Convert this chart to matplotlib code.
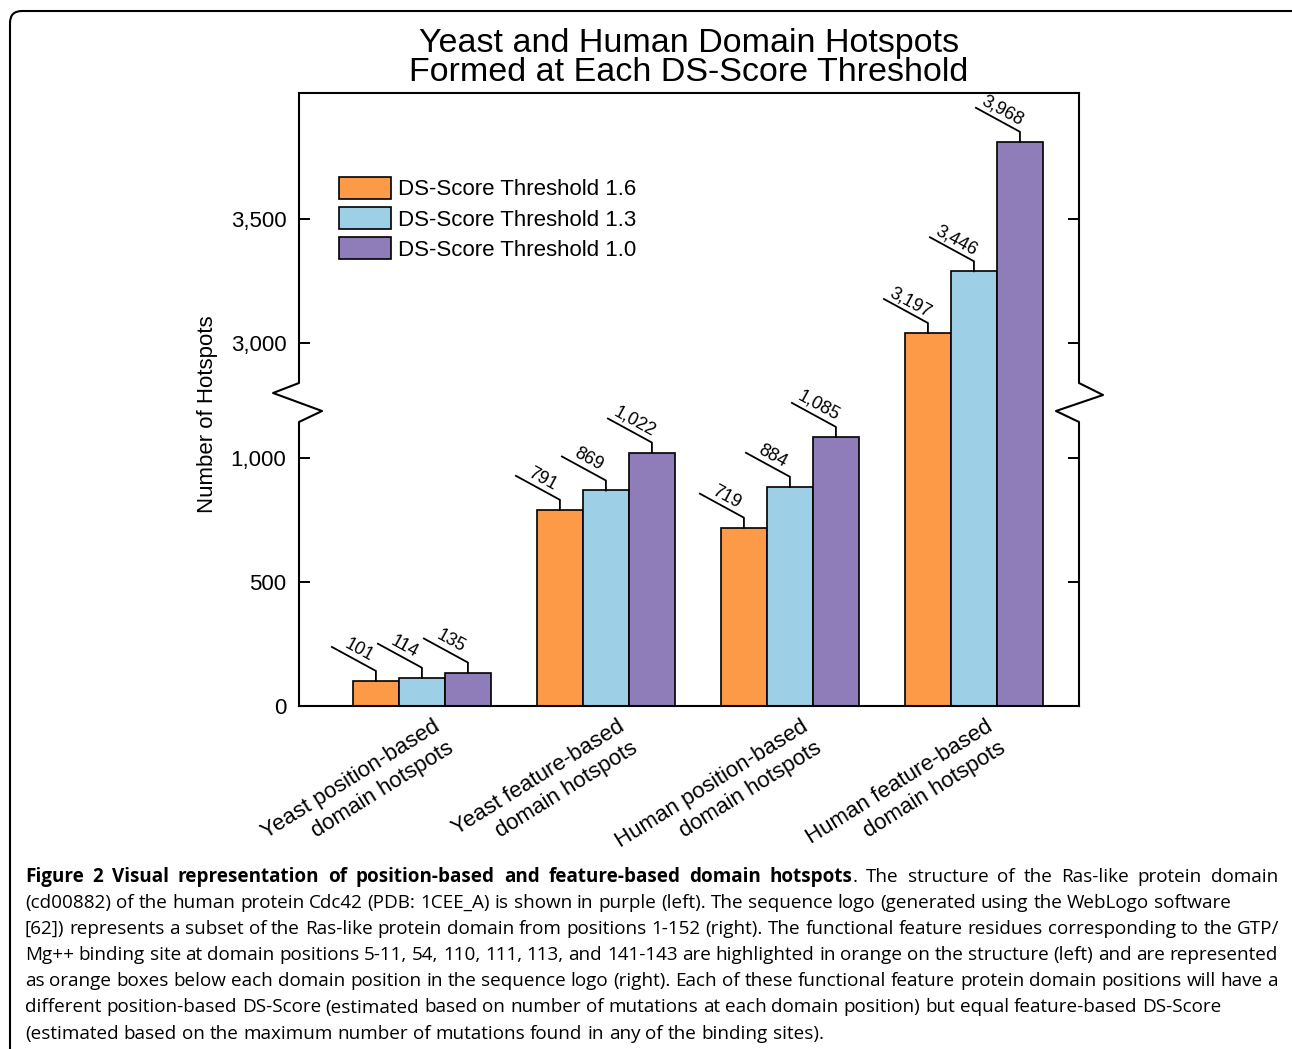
import numpy as np
import matplotlib
matplotlib.use("Agg")
import matplotlib.pyplot as plt
from matplotlib.lines import Line2D
from matplotlib.patches import FancyBboxPatch
from matplotlib.transforms import IdentityTransform

# Datos
categories = ["Yeast position-based\ndomain hotspots",
              "Yeast feature-based\ndomain hotspots",
              "Human position-based\ndomain hotspots",
              "Human feature-based\ndomain hotspots"]
series_names = ["DS-Score Threshold 1.6", "DS-Score Threshold 1.3", "DS-Score Threshold 1.0"]
thr_16 = [101, 791, 719, 3197]
thr_13 = [114, 869, 884, 3446]
thr_10 = [135, 1022, 1085, 3968]
colors = ["#FD9A47", "#9DCFE6", "#8F7DBA"]

lower_ticks = [0, 500, 1000]
upper_ticks = [3000, 3500]

# eje roto: todo lo que pasa de 2000 se baja
BREAK = 2000
BAR_SHIFT = 1693
TICK_SHIFT = 1538


def to_plot(v, shift=BAR_SHIFT):
    return v if v < BREAK else v - shift


def fmt(v):
    return f"{v:,}"


W, H = 1292, 1049
fig = plt.figure(figsize=(W / 100, H / 100), dpi=100)
plt.rcParams["font.family"] = ["Liberation Sans", "DejaVu Sans"]

# marco redondeado de la figura
frame = FancyBboxPatch((10, -12), 1300, H - 11 + 12, boxstyle="round,pad=0,rounding_size=12",
                       transform=IdentityTransform(), fill=False, lw=1.5, ec="black")
fig.add_artist(frame)

ax = fig.add_axes([299 / W, 1 - 706 / H, 780 / W, 613 / H])
ax.set_xlim(-0.668, 3.571)
ax.set_ylim(0, 613 / 0.248)

x = np.arange(len(categories))
width = 0.25
series = [thr_16, thr_13, thr_10]
for i, (vals, name, c) in enumerate(zip(series, series_names, colors)):
    ax.bar(x + (i - 1) * width, [to_plot(v) for v in vals], width,
           color=c, edgecolor="black", lw=1.2, label=name)

# ticks
ypos = [to_plot(t) for t in lower_ticks] + [to_plot(t, TICK_SHIFT) for t in upper_ticks]
ax.set_yticks(ypos, [fmt(t) for t in lower_ticks + upper_ticks])
ax.tick_params(axis="y", direction="in", left=True, right=True, length=8, width=1.4,
               labelsize=16, pad=9)
ax.set_xticks([])
for s in ["left", "right"]:
    ax.spines[s].set_visible(False)
for s in ["top", "bottom"]:
    ax.spines[s].set_linewidth(1.5)

# ejes laterales con el zigzag del corte
y_hi, y_lo = (706 - 383) / 613, (706 - 422) / 613
left_pts = [(0, 0), (0, y_lo), (0.0295, (706 - 411) / 613),
            (-0.0333, (706 - 393) / 613), (0, y_hi), (0, 1)]
right_pts = [(1, 0), (1, y_lo), (0.9705, (706 - 411) / 613),
             (1.0308, (706 - 395) / 613), (1, y_hi), (1, 1)]
for pts in (left_pts, right_pts):
    xs, ys = zip(*pts)
    ax.add_line(Line2D(xs, ys, transform=ax.transAxes, color="black", lw=1.5, clip_on=False))

# etiquetas de valor con linea guia
fig.canvas.draw()
ang = np.degrees(np.arctan2(24, 44))
for i, vals in enumerate(series):
    for j, v in enumerate(vals):
        bx, by = ax.transData.transform((x[j] + (i - 1) * width, to_plot(v)))
        fig.add_artist(Line2D([bx, bx, bx - 44], [by, by + 10, by + 34], color="black", lw=1.3,
                              transform=IdentityTransform()))
        fig.text(bx - 17.2, by + 30.8, fmt(v), transform=IdentityTransform(), rotation=-ang,
                 ha="center", va="center", fontsize=13, rotation_mode="anchor")

# categorias
for j, cat in enumerate(categories):
    ax.annotate(cat, xy=(x[j], 0), xycoords=("data", "axes fraction"), xytext=(11, -10),
                textcoords="offset pixels", rotation=32, ha="right", va="top",
                rotation_mode="anchor", multialignment="right", linespacing=1.3, fontsize=16)

ax.legend(loc="upper left", bbox_to_anchor=(40 / 780, (706 - 177) / 613), frameon=False,
          borderpad=0, borderaxespad=0, fontsize=16, handlelength=2.34, handleheight=1.13,
          labelspacing=0.3, handletextpad=0.3)

fig.text(207 / W, 1 - 414 / H, "Number of Hotspots", rotation=90, ha="center", va="center",
         fontsize=16)
fig.text(689 / W, 1 - 58 / H, "Yeast and Human Domain Hotspots\nFormed at Each DS-Score Threshold",
         ha="center", va="center", fontsize=24.5, linespacing=0.95)

# leyenda de la figura (texto justificado)
cap_lines = [
    [("Figure 2 Visual representation of position-based and feature-based domain hotspots", True),
     (". The structure of the Ras-like protein domain", False)],
    [("(cd00882) of the human protein Cdc42 (PDB: 1CEE_A) is shown in purple (left). The sequence logo (generated using the WebLogo software", False)],
    [("[62]) represents a subset of the Ras-like protein domain from positions 1-152 (right). The functional feature residues corresponding to the GTP/", False)],
    [("Mg++ binding site at domain positions 5-11, 54, 110, 111, 113, and 141-143 are highlighted in orange on the structure (left) and are represented", False)],
    [("as orange boxes below each domain position in the sequence logo (right). Each of these functional feature protein domain positions will have a", False)],
    [("different position-based DS-Score (estimated based on number of mutations at each domain position) but equal feature-based DS-Score", False)],
    [("(estimated based on the maximum number of mutations found in any of the binding sites).", False)],
]
justify = [True, False, False, True, True, False, False]
cap_font = ["Open Sans", "DejaVu Sans"]
cap_size = 13.6
renderer = fig.canvas.get_renderer()


def width_of(s, bold):
    t = fig.text(0, 0, s, fontsize=cap_size, family=cap_font, fontweight="bold" if bold else "normal")
    w = t.get_window_extent(renderer).width
    t.remove()
    return w


space_w = width_of("a a", False) - width_of("aa", False)
for k, (segs, just) in enumerate(zip(cap_lines, justify)):
    # tokens: (palabra, negrita, espacio antes)
    toks = []
    for s, bold in segs:
        for n, wd in enumerate(s.split(" ")):
            if wd == "":
                continue
            gap = bool(toks) and (n > 0 or s.startswith(" "))
            toks.append((wd, bold, gap))
    widths = [width_of(w, b) for w, b, _ in toks]
    ngaps = sum(1 for t in toks if t[2])
    total = sum(widths) + ngaps * space_w
    sp = space_w
    if just and ngaps:
        sp = space_w + (1253 - total) / ngaps
    xp = 25
    yb = H - (882 + 26.1 * k)
    for (wd, bold, gap), wdt in zip(toks, widths):
        if gap:
            xp += sp
        fig.text(xp, yb, wd, transform=IdentityTransform(), fontsize=cap_size, family=cap_font,
                 fontweight="bold" if bold else "normal", va="baseline", ha="left")
        xp += wdt

fig.savefig("out.png", dpi=100)
